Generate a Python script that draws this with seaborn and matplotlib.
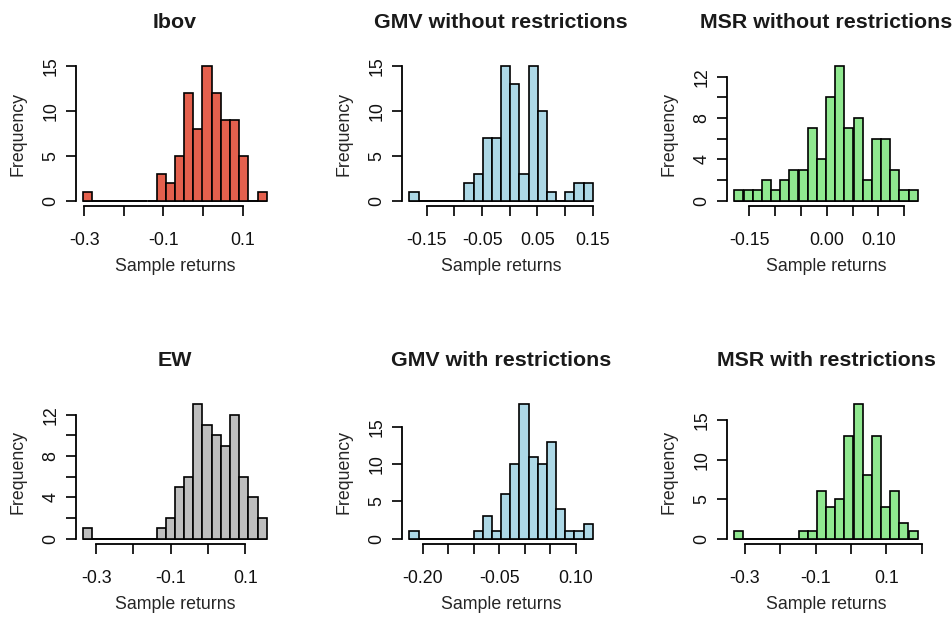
import numpy as np
import pandas as pd
import matplotlib
matplotlib.use("Agg")
import matplotlib.pyplot as plt
import seaborn as sns

# ---------------- data ----------------
titles = ["Ibov", "GMV without restrictions", "MSR without restrictions",
          "EW", "GMV with restrictions", "MSR with restrictions"]

ibov_range = (-0.3026, 0.161)
ibov_counts = [1, 0, 0, 0, 0, 0, 0, 0, 3, 2, 5, 12, 8, 15, 12, 9, 9, 5, 0, 1]

gmv_free_range = (-0.1816, 0.150)
gmv_free_counts = [1, 0, 0, 0, 0, 0, 2, 3, 7, 7, 15, 13, 3, 15, 10, 1, 0, 1, 2, 2]

msr_free_range = (-0.179, 0.176)
msr_free_counts = [1, 1, 1, 2, 1, 2, 3, 3, 7, 4, 10, 13, 7, 8, 2, 6, 6, 3, 1, 1]

ew_range = (-0.3343, 0.1578)
ew_counts = [1, 0, 0, 0, 0, 0, 0, 0, 1, 2, 5, 6, 13, 11, 10, 9, 12, 6, 4, 2]

gmv_res_range = (-0.2264, 0.133)
gmv_res_counts = [1, 0, 0, 0, 0, 0, 0, 1, 3, 1, 6, 10, 18, 11, 10, 13, 4, 1, 1, 2]

msr_res_range = (-0.330, 0.189)
msr_res_counts = [1, 0, 0, 0, 0, 0, 0, 1, 1, 6, 4, 5, 13, 17, 8, 13, 4, 6, 2, 1]

ranges = [ibov_range, gmv_free_range, msr_free_range, ew_range, gmv_res_range, msr_res_range]
counts = [ibov_counts, gmv_free_counts, msr_free_counts, ew_counts, gmv_res_counts, msr_res_counts]
colors = ["#E4604D", "#ADD8E6", "#90E890", "#BEBEBE", "#ADD8E6", "#90E890"]

x_ticks = [
    [-0.3, -0.2, -0.1, 0.0, 0.1],
    [-0.15, -0.10, -0.05, 0.0, 0.05, 0.10, 0.15],
    [-0.15, -0.10, -0.05, 0.0, 0.05, 0.10, 0.15],
    [-0.3, -0.2, -0.1, 0.0, 0.1],
    [-0.20, -0.15, -0.10, -0.05, 0.0, 0.05, 0.10],
    [-0.3, -0.2, -0.1, 0.0, 0.1, 0.2],
]
x_labels = [
    ["-0.3", "", "-0.1", "", "0.1"],
    ["-0.15", "", "-0.05", "", "0.05", "", "0.15"],
    ["-0.15", "", "", "0.00", "", "0.10", ""],
    ["-0.3", "", "-0.1", "", "0.1"],
    ["-0.20", "", "", "-0.05", "", "", "0.10"],
    ["-0.3", "", "-0.1", "", "0.1", ""],
]
y_ticks = [
    [0, 5, 10, 15],
    [0, 5, 10, 15],
    [0, 2, 4, 6, 8, 10, 12],
    [0, 2, 4, 6, 8, 10, 12],
    [0, 5, 10, 15],
    [0, 5, 10, 15],
]
y_labels = [
    ["0", "5", "10", "15"],
    ["0", "5", "10", "15"],
    ["0", "", "4", "", "8", "", "12"],
    ["0", "", "4", "", "8", "", "12"],
    ["0", "5", "10", "15"],
    ["0", "5", "10", "15"],
]

# ---------------- style ----------------
sns.set_style("ticks")
plt.rcParams["font.family"] = ["Liberation Sans", "DejaVu Sans"]
plt.rcParams["text.color"] = "#222222"
plt.rcParams["xtick.color"] = "#111111"
plt.rcParams["ytick.color"] = "#111111"

W, H = 952, 617
fig = plt.figure(figsize=(W / 100, H / 100), dpi=100)

col_left = [76, 402, 727]
row_top = [61, 399]
ax_w, ax_h = 198, 145

for i in range(6):
    r, c = divmod(i, 3)
    left = col_left[c] / W
    bottom = 1 - (row_top[r] + ax_h) / H
    ax = fig.add_axes([left, bottom, ax_w / W, ax_h / H])

    lo, hi = ranges[i]
    cnt = np.asarray(counts[i], dtype=float)
    edges = np.linspace(lo, hi, len(cnt) + 1)
    df = pd.DataFrame({"ret": (edges[:-1] + edges[1:]) / 2, "n": cnt})
    # baseline under empty bins (R draws zero-height bars as a line)
    ax.hlines(0, lo, hi, colors="black", linewidth=1.2, zorder=1)
    sns.histplot(data=df, x="ret", weights="n", bins=list(edges), color=colors[i],
                 edgecolor="black", linewidth=1.2, alpha=1.0, ax=ax, zorder=2)

    span = hi - lo
    ax.set_xlim(lo - 0.04 * span, hi + 0.04 * span)
    m = cnt.max()
    ax.set_ylim(-0.04 * m, 1.04 * m)

    for s in ["top", "right"]:
        ax.spines[s].set_visible(False)
    for s in ["left", "bottom"]:
        ax.spines[s].set_linewidth(1.3)
        ax.spines[s].set_color("black")
    ax.spines["bottom"].set_bounds(x_ticks[i][0], x_ticks[i][-1])
    ax.spines["left"].set_bounds(y_ticks[i][0], y_ticks[i][-1])

    ax.set_xticks(x_ticks[i])
    ax.set_xticklabels(x_labels[i])
    ax.set_yticks(y_ticks[i])
    ax.set_yticklabels(y_labels[i], rotation=90, va="center")
    ax.tick_params(axis="both", length=7.2, width=1.3, labelsize=12.8)
    ax.tick_params(axis="x", pad=11.5)
    ax.tick_params(axis="y", pad=4.6)

    ax.set_title(titles[i], fontsize=15.4, fontweight="bold", pad=24, color="#1a1a1a")
    ax.set_xlabel("Sample returns", fontsize=12.8)
    ax.set_ylabel("Frequency", fontsize=12.8)
    ax.xaxis.label.set_va("center")
    ax.xaxis.set_label_coords(0.5, -0.42)
    ax.yaxis.label.set_va("center")
    ax.yaxis.set_label_coords(-0.293, 0.5)

fig.savefig("out.png", dpi=100)
